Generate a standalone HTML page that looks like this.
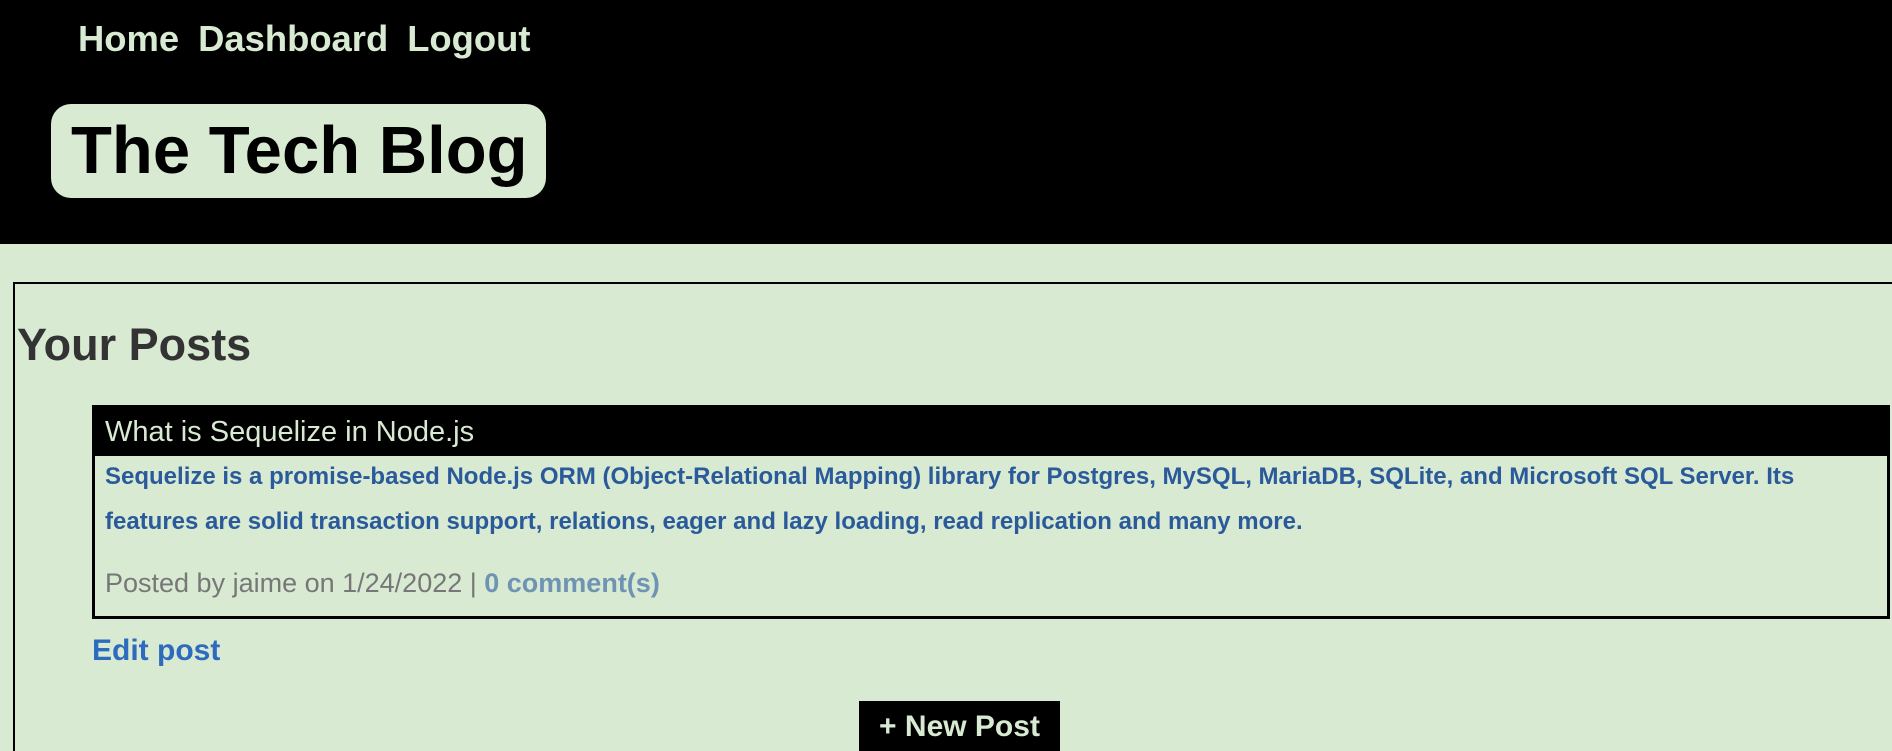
<!DOCTYPE html>
<html style="width:1892px;height:751px;overflow:hidden"><head><meta charset="utf-8"><style>
*{margin:0;padding:0;box-sizing:border-box}
body{width:1892px;height:751px;overflow:hidden;background:#d9ead3;font-family:"Liberation Sans",Arial,sans-serif;position:relative}
.hdr{position:absolute;left:0;top:0;width:1892px;height:244px;background:#000}
.nav{position:absolute;top:18px;left:78px;font-size:36.4px;font-weight:bold;color:#d9ead3;white-space:nowrap}
.nav span{margin-right:19px}
.title{position:absolute;left:51px;top:104px;width:495px;height:94px;background:#d9ead3;border-radius:20px}
.title div{position:absolute;left:20px;top:9px;font-size:67px;font-weight:bold;color:#000;white-space:nowrap;line-height:76px}
.box{position:absolute;left:13px;top:282px;width:1879px;height:469px;border:2px solid #000;border-right:none;border-bottom:none}
.yp{position:absolute;left:17px;top:318px;font-size:45px;font-weight:bold;color:#333;line-height:54px}
.card{position:absolute;left:92px;top:405px;width:1798px;height:214px;border:3px solid #000}
.ch{position:absolute;left:0;top:0;right:0;height:48px;background:#000;color:#d9ead3;font-size:29px;line-height:48px;padding-left:10px;white-space:nowrap}
.cb{position:absolute;left:10px;top:46px;font-size:24px;font-weight:bold;color:#2a5a9a;line-height:45px;white-space:nowrap}
.cf{position:absolute;left:10px;top:158px;font-size:27px;color:#777;white-space:nowrap;line-height:34px}
.cf b{color:#6e93b3}
.edit{position:absolute;left:92px;top:632px;font-size:30px;font-weight:bold;color:#2e6bbf;line-height:38px}
.btn{position:absolute;left:859px;top:701px;width:201px;height:50px;background:#000;color:#d9ead3;font-size:30px;font-weight:bold;text-align:center;line-height:52px}
</style></head><body>
<div class="hdr">
<div class="nav"><span>Home</span><span>Dashboard</span><span>Logout</span></div>
<div class="title"><div>The Tech Blog</div></div>
</div>
<div class="box"></div>
<div class="yp">Your Posts</div>
<div class="card">
<div class="ch">What is Sequelize in Node.js</div>
<div class="cb">Sequelize is a promise-based Node.js ORM (Object-Relational Mapping) library for Postgres, MySQL, MariaDB, SQLite, and Microsoft SQL Server. Its<br>features are solid transaction support, relations, eager and lazy loading, read replication and many more.</div>
<div class="cf">Posted by jaime on 1/24/2022 | <b>0 comment(s)</b></div>
</div>
<div class="edit">Edit post</div>
<div class="btn">+ New Post</div>
</body></html>
